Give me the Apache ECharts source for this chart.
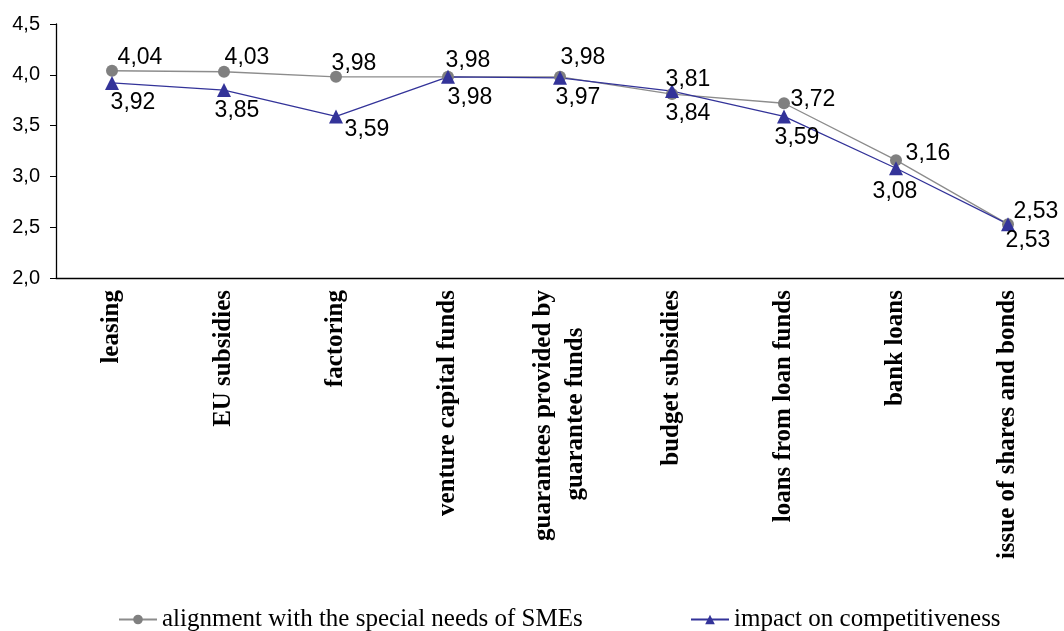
<!DOCTYPE html>
<html>
<head>
<meta charset="utf-8">
<script src="https://cdn.jsdelivr.net/npm/echarts@6/dist/echarts.min.js"></script>
<style>
  html, body { margin: 0; padding: 0; background: #fff; }
  #chart { width: 1064px; height: 631px; }
</style>
</head>
<body>
<div id="chart"></div>
<script>
var categories = [
  "leasing",
  "EU subsidies",
  "factoring",
  "venture capital funds",
  "guarantees provided by\nguarantee funds      ",
  "budget subsidies",
  "loans from loan funds",
  "bank loans",
  "issue of shares and bonds"
];
var alignment = [4.04, 4.03, 3.98, 3.98, 3.98, 3.81, 3.72, 3.16, 2.53];
var impact = [3.92, 3.85, 3.59, 3.98, 3.97, 3.84, 3.59, 3.08, 2.53];
var seriesNames = ["alignment with the special needs of SMEs", "impact on competitiveness"];

// label placement (pixels from each point), as in the original layout
var alignmentLabelShift = [[28, -13], [23, -14], [18, -13], [20, -16], [23, -19], [16, -14], [29, -4], [32, -6], [28, -12]];
var impactLabelShift = [[21, 20], [13, 21], [31, 13], [22, 21], [18, 20], [16, 23], [13, 21], [-1, 23], [20, 17]];

function comma(v, d) {
  return v.toFixed(d).replace(".", ",");
}

function withLabels(values, shifts) {
  return values.map(function (v, i) {
    return { value: v, label: { offset: shifts[i] } };
  });
}

var labelFont = {
  show: true,
  position: "inside",
  color: "#000",
  fontFamily: "Liberation Sans",
  fontSize: 23,
  formatter: function (p) { return comma(p.value, 2); }
};

var chart = echarts.init(document.getElementById("chart"));
var option = {
  animation: false,
  grid: { left: 56, top: 24, bottom: 353, right: -5 },
  legend: [
    {
      data: [seriesNames[0]],
      left: 113, top: 602,
      itemWidth: 38, itemHeight: 12, itemGap: 6,
      textStyle: { fontFamily: "Liberation Serif", fontSize: 25, color: "#000" }
    },
    {
      data: [seriesNames[1]],
      left: 685, top: 602,
      itemWidth: 38, itemHeight: 12,
      textStyle: { fontFamily: "Liberation Serif", fontSize: 25, color: "#000" }
    }
  ],
  xAxis: {
    type: "category",
    data: categories,
    axisLine: { lineStyle: { color: "#000", width: 1.3 } },
    axisTick: { length: 6, lineStyle: { color: "#000" } },
    axisLabel: {
      interval: 0,
      rotate: 90,
      margin: 12,
      color: "#000",
      fontFamily: "Liberation Serif",
      fontWeight: "bold",
      fontSize: 25,
      lineHeight: 32
    }
  },
  yAxis: {
    type: "value",
    min: 2, max: 4.5, interval: 0.5,
    splitLine: { show: false },
    axisLine: { show: true, lineStyle: { color: "#000", width: 1.3 } },
    axisTick: { show: true, length: 6, lineStyle: { color: "#000" } },
    axisLabel: {
      margin: 16,
      color: "#000",
      fontFamily: "Liberation Sans",
      fontSize: 20,
      formatter: function (v) { return comma(v, 1); }
    }
  },
  series: [
    {
      name: seriesNames[0],
      type: "line",
      data: withLabels(alignment, alignmentLabelShift),
      symbol: "circle",
      symbolSize: 12,
      lineStyle: { color: "#8c8c8c", width: 1.3 },
      itemStyle: { color: "#808080" },
      label: labelFont
    },
    {
      name: seriesNames[1],
      type: "line",
      data: withLabels(impact, impactLabelShift),
      symbol: "triangle",
      symbolSize: 14,
      lineStyle: { color: "#333399", width: 1.3 },
      itemStyle: { color: "#333399" },
      label: labelFont
    }
  ]
};
chart.setOption(option);
</script>
</body>
</html>
